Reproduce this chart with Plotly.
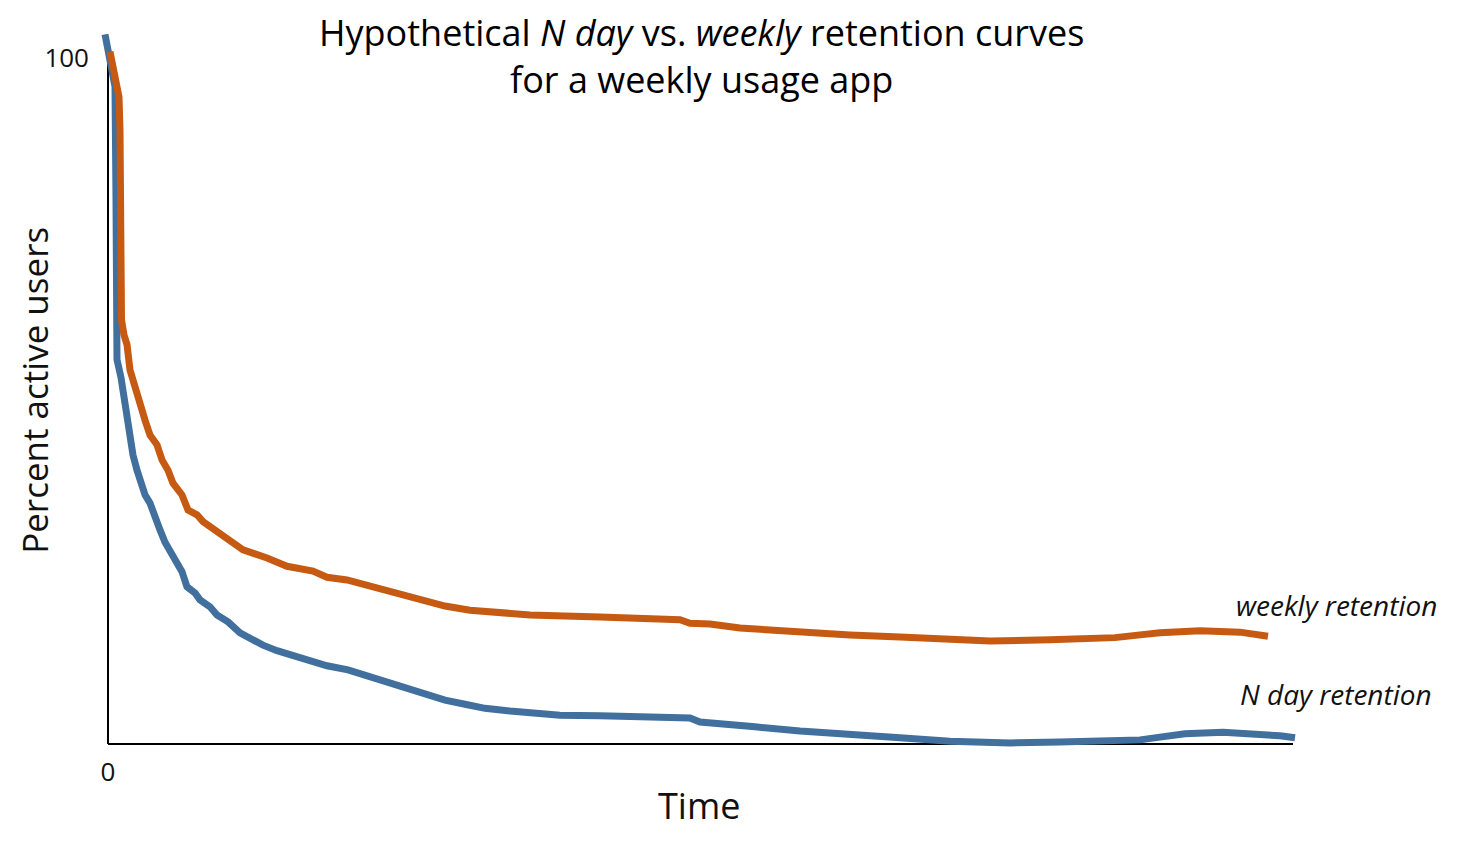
import plotly.graph_objects as go

# N day retention (blue)
nday_x = [-0.3, 0.2, 0.7, 0.8, 0.87, 0.9, 1.3, 1.6, 1.9, 2.2, 2.5, 2.9, 3.3, 3.7, 4.2, 4.7, 5.2, 5.7,
          6.2, 6.8, 7.4, 7.9, 8.7, 9.2, 10.2, 10.9, 12.0, 13.2, 15.5, 16.9, 18.9, 20.8, 21.9, 24.0,
          26.9, 28.7, 30.5, 32.2, 33.7, 35.7, 37.7, 40.2, 42.7, 45.2, 49.2, 54.2, 58.2, 59.2, 62.2,
          64.7, 69.2, 74.2, 79.2, 84.2, 90.2, 95.2, 100.2, 103.2, 105.2, 107.7, 111.5, 115.2, 117.2, 118.7]
nday_y = [103.4, 99.4, 95.8, 79.3, 61.8, 56.0, 53.4, 50.1, 48.0, 44.3, 42.1, 39.9, 37.8, 36.3, 35.1,
          32.9, 31.2, 29.4, 28.0, 26.5, 25.1, 22.9, 22.0, 21.0, 20.0, 18.8, 17.8, 16.2, 14.4, 13.6,
          12.7, 12.1, 11.4, 10.8, 9.5, 8.5, 7.9, 7.1, 6.4, 5.8, 5.2, 4.8, 4.4, 4.2, 4.1, 3.9, 3.8,
          3.2, 2.9, 2.5, 1.9, 1.3, 0.9, 0.4, 0.15, 0.3, 0.4, 0.6, 1.0, 1.5, 1.7, 1.5, 1.2, 0.9]

# Weekly retention (orange)
weekly_x = [0.2, 0.7, 1.1, 1.2, 1.25, 1.35, 1.6, 1.9, 2.2, 2.6, 2.9, 3.3, 3.7, 4.2, 4.9, 5.4, 6.0,
            6.5, 7.4, 8.0, 8.9, 9.5, 10.7, 11.4, 13.5, 15.9, 17.9, 20.5, 21.9, 23.9, 26.5, 28.5,
            30.2, 32.2, 33.7, 36.2, 38.2, 42.2, 49.2, 57.2, 58.2, 60.2, 63.2, 69.2, 74.2, 79.2,
            84.2, 88.2, 94.2, 100.7, 103.2, 105.2, 109.2, 113.2, 116.0]
weekly_y = [100.9, 97.5, 94.3, 89.5, 72.0, 61.8, 59.6, 58.2, 54.5, 52.3, 50.9, 48.7, 47.2, 45.0,
            43.6, 41.4, 39.9, 38.0, 36.3, 34.1, 33.4, 32.4, 31.2, 30.2, 28.3, 27.1, 25.9, 25.2,
            24.3, 23.9, 22.9, 21.9, 21.4, 20.7, 20.1, 19.5, 19.2, 18.8, 18.5, 18.1, 17.6, 17.5,
            16.9, 16.3, 15.9, 15.6, 15.3, 15.0, 15.2, 15.5, 15.9, 16.2, 16.5, 16.3, 15.7]

x_tick_vals = [0]
x_tick_text = ["0"]
y_tick_vals = [100]
y_tick_text = ["100"]

BLUE = "#41709E"
ORANGE = "#C65A12"
FONT = "Open Sans"

fig = go.Figure()
fig.add_trace(go.Scatter(x=nday_x, y=nday_y, mode="lines", line=dict(color=BLUE, width=7),
                         name="N day retention", showlegend=False, hoverinfo="skip"))
fig.add_trace(go.Scatter(x=weekly_x, y=weekly_y, mode="lines", line=dict(color=ORANGE, width=7),
                         name="weekly retention", showlegend=False, hoverinfo="skip"))

# axis lines
fig.add_shape(type="line", x0=0, x1=0, y0=0, y1=100, xref="x", yref="y",
              line=dict(color="black", width=2), layer="below")
fig.add_shape(type="line", x0=0, x1=118.5, y0=0, y1=0, xref="x", yref="y",
              line=dict(color="black", width=2), layer="below")

fig.update_layout(
    width=1455, height=845,
    paper_bgcolor="white", plot_bgcolor="white",
    margin=dict(l=88, r=163, t=12, b=102),
    xaxis=dict(range=[-1.2, 119.2], showgrid=False, zeroline=False, showline=False,
               tickvals=x_tick_vals, ticktext=x_tick_text, ticks="",
               tickfont=dict(family=FONT, size=26, color="#111"), ticklabelstandoff=3),
    yaxis=dict(range=[-1.02, 105.5], showgrid=False, zeroline=False, showline=False,
               tickvals=y_tick_vals, ticktext=y_tick_text, ticks="",
               tickfont=dict(family=FONT, size=26, color="#111"), ticklabelstandoff=6),
    annotations=[
        dict(text="Hypothetical <i>N day</i> vs. <i>weekly</i> retention curves<br>for a weekly usage app",
             xref="paper", yref="paper", x=0.503, y=0.951, xanchor="center", yanchor="middle",
             showarrow=False, font=dict(family=FONT, size=36, color="black")),
        dict(text="Percent active users", xref="paper", yref="paper", x=-0.0507, y=0.494,
             xanchor="center", yanchor="middle", textangle=-90, showarrow=False,
             font=dict(family=FONT, size=35, color="#111")),
        dict(text="Time", xref="paper", yref="paper", x=0.5008, y=-0.0739,
             xanchor="center", yanchor="middle", showarrow=False,
             font=dict(family=FONT, size=36, color="#111")),
        dict(text="<i>weekly retention</i>", xref="paper", yref="paper", x=1.030, y=0.1997,
             xanchor="center", yanchor="middle", showarrow=False,
             font=dict(family=FONT, size=28, color="#111")),
        dict(text="<i>N day retention</i>", xref="paper", yref="paper", x=1.030, y=0.078,
             xanchor="center", yanchor="middle", showarrow=False,
             font=dict(family=FONT, size=28, color="#111")),
    ],
)

fig.write_html("out.html")
